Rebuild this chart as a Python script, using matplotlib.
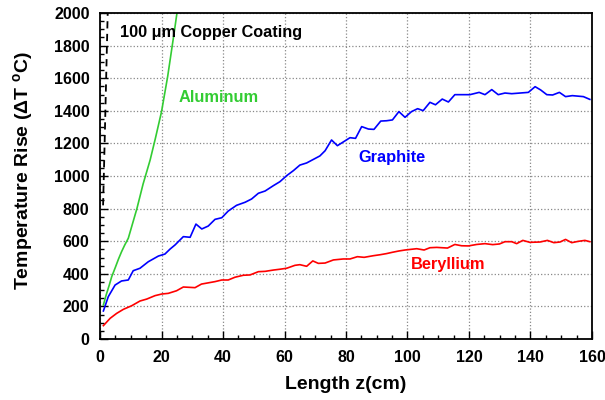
import matplotlib
matplotlib.use("Agg")
import matplotlib.pyplot as plt
from matplotlib.ticker import MultipleLocator

plt.rcParams['font.family'] = ['Liberation Sans', 'DejaVu Sans']
plt.rcParams['font.weight'] = 'bold'
plt.rcParams['mathtext.fontset'] = 'custom'
plt.rcParams['mathtext.rm'] = 'Liberation Sans:bold'
plt.rcParams['mathtext.bf'] = 'Liberation Sans:bold'

# Aluminum (green)
al_z = [1.1, 2.0, 3.0, 3.8, 5.0, 6.0, 7.0, 8.0, 9.2, 10.0, 12.0, 14.0, 16.3,
        18.0, 20.0, 22.0, 24.1, 26.0]
al_t = [209, 270, 330, 382, 440, 490, 535, 575, 618, 670, 800, 950, 1098,
        1230, 1394, 1610, 1877, 2130]

# Graphite (blue)
gr_z = [1.1, 2.7, 4.9, 7.0, 9.2, 10.8, 13.0, 15.7, 19.0, 21.1, 22.8, 24.4,
        27.1, 29.3, 31.2, 33.1, 35.2, 37.4, 39.6, 41.7, 44.4, 47.2, 49.3,
        51.5, 53.7, 56.4, 58.5, 60.7, 62.9, 65.0, 67.2, 69.4, 71.5, 73.2,
        75.3, 77.2, 81.3, 83.1, 85.1, 87.3, 89.1, 91.3, 93.2, 95.1, 97.2,
        99.2, 101.3, 103.3, 105.1, 107.3, 109.1, 111.3, 113.3, 115.4, 117.6,
        120.3, 123.3, 125.2, 127.4, 129.5, 131.7, 133.9, 139.3, 141.5, 143.3,
        145.3, 147.2, 149.4, 151.4, 153.6, 157.2, 159.3]
gr_t = [172, 260, 331, 356, 362, 419, 434, 474, 509, 521, 552, 577,
        628, 624, 705, 675, 693, 734, 744, 785, 820, 839, 859,
        894, 908, 941, 965, 1002, 1033, 1067, 1080, 1102, 1123, 1155,
        1221, 1186, 1235, 1231, 1303, 1288, 1286, 1337, 1339, 1344, 1395,
        1360, 1395, 1413, 1401, 1452, 1437, 1472, 1454, 1499, 1499,
        1499, 1513, 1499, 1530, 1499, 1509, 1505, 1513, 1548, 1528,
        1499, 1497, 1513, 1487, 1493, 1487, 1470]

# Beryllium (red)
be_z = [1.1, 3.3, 5.4, 7.6, 10.3, 13.0, 15.2, 17.9, 20.1, 22.2, 24.9, 27.1,
        30.9, 33.0, 37.4, 39.6, 41.7, 43.9, 46.6, 48.8, 51.5, 53.7, 56.4,
        58.5, 60.7, 63.4, 65.0, 67.2, 69.2, 71.0, 73.2, 75.9, 79.1, 81.3,
        83.7, 85.9, 88.9, 91.1, 93.2, 95.1, 97.2, 99.2, 103.0, 105.4, 107.3,
        109.5, 113.0, 115.4, 117.6, 119.8, 122.5, 125.2, 127.7, 129.9, 131.7,
        133.9, 135.5, 137.5, 139.8, 143.1, 145.5, 147.6, 149.6, 151.4, 153.4,
        155.5, 157.7, 159.3]
be_t = [82, 127, 157, 182, 204, 233, 245, 266, 276, 280, 296, 319,
        315, 337, 352, 362, 362, 379, 391, 393, 413, 415, 423,
        428, 434, 452, 456, 446, 479, 464, 466, 485, 491, 491,
        505, 501, 511, 517, 524, 532, 540, 546, 554, 546, 560,
        562, 558, 580, 572, 571, 580, 585, 579, 583, 597,
        597, 585, 605, 593, 595, 605, 591, 595, 611, 591,
        599, 605, 597]

# copper coating marker (dashed)
cu_z = [1.0, 1.5, 2.0, 2.5]
cu_t = [820, 1200, 1600, 2000]

fig = plt.figure(figsize=(6.05, 4.0), dpi=100)
ax = fig.add_axes([0.1653, 0.1525, 0.8132, 0.815])

ax.plot(cu_z, cu_t, color='black', lw=1.3, ls=(0, (4, 3)))
ax.plot(al_z, al_t, color='#33cc33', lw=1.2)
ax.plot(gr_z, gr_t, color='#0000ff', lw=1.2)
ax.plot(be_z, be_t, color='#ff0000', lw=1.2)

ax.set_xlim(0, 160)
ax.set_ylim(0, 2000)
ax.xaxis.set_major_locator(MultipleLocator(20))
ax.xaxis.set_minor_locator(MultipleLocator(5))
ax.yaxis.set_major_locator(MultipleLocator(200))
ax.yaxis.set_minor_locator(MultipleLocator(50))
ax.tick_params(which='both', direction='in', top=False, right=False,
               labelsize=11.5, width=1)
ax.tick_params(which='major', length=6)
ax.tick_params(which='minor', length=3)
ax.tick_params(axis='x', which='major', pad=8)
ax.tick_params(axis='y', which='major', pad=7.5)
ax.grid(True, which='major', color='#888888', ls=':', lw=0.9)
for sp in ax.spines.values():
    sp.set_linewidth(1.3)

ax.set_xlabel('Length z(cm)', fontsize=14, fontweight='bold', labelpad=8)
ax.set_ylabel(r'Temperature Rise ($\Delta$T $^{\mathrm{o}}$C)', fontsize=14,
              fontweight='bold', labelpad=16)
ax.yaxis.set_label_coords(-0.13, 0.515)

ax.text(6.6, 1880, '100 μm Copper Coating', fontsize=11.7, fontweight='bold',
        color='black', va='center')
ax.text(25.5, 1480, 'Aluminum', fontsize=11.8, fontweight='bold',
        color='#33cc33', va='center')
ax.text(84.0, 1115, 'Graphite', fontsize=11.8, fontweight='bold',
        color='#0000ff', va='center')
ax.text(101.0, 455, 'Beryllium', fontsize=11.8, fontweight='bold',
        color='#ff0000', va='center')

fig.savefig('out.png', dpi=100)
